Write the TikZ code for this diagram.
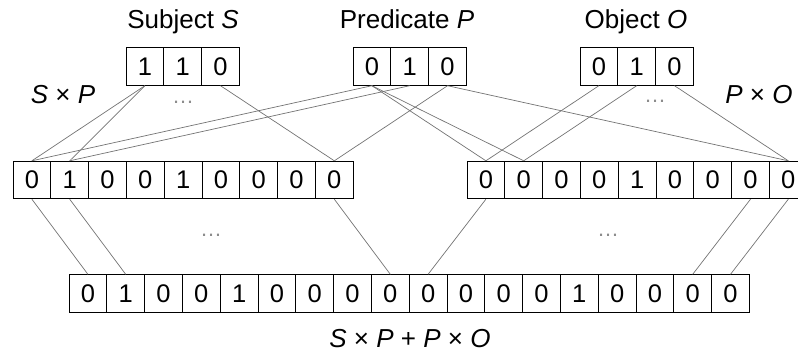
\documentclass[tikz,border=0pt]{standalone}
\usepackage{fontspec}
\setmainfont{Liberation Sans}
\setsansfont{Liberation Sans}
\begin{document}
\begin{tikzpicture}[x=1pt,y=-1pt,
  cell/.style={draw, line width=0.9pt, minimum width=37.8pt, minimum height=37.5pt, inner sep=0pt, font=\fontsize{25.5}{25.5}\selectfont},
  lbl/.style={inner sep=0pt, anchor=base, font=\fontsize{26}{26}\selectfont},
  dotsl/.style={inner sep=0pt, anchor=base, text=black!45, font=\fontsize{22}{22}\selectfont},
  conn/.style={draw=black!55, line width=0.7pt}]
\clip (0,0) rectangle (798,356);
% top vectors
\foreach \v [count=\i] in {1,1,0}
  \node[cell] (s\i) at ({126+18.9+37.8*(\i-1)}, 66.5) {\v};
\foreach \v [count=\i] in {0,1,0}
  \node[cell] (p\i) at ({353+18.9+37.8*(\i-1)}, 66.5) {\v};
\foreach \v [count=\i] in {0,1,0}
  \node[cell] (o\i) at ({580+18.9+37.8*(\i-1)}, 66.5) {\v};
% middle vectors
\foreach \v [count=\i] in {0,1,0,0,1,0,0,0,0}
  \node[cell] (l\i) at ({13+18.9+37.8*(\i-1)}, 180) {\v};
\foreach \v [count=\i] in {0,0,0,0,1,0,0,0,0}
  \node[cell] (r\i) at ({467+18.9+37.8*(\i-1)}, 180) {\v};
% bottom vector
\foreach \v [count=\i] in {0,1,0,0,1,0,0,0,0,0,0,0,0,1,0,0,0,0}
  \node[cell] (b\i) at ({69+18.9+37.8*(\i-1)}, 293.5) {\v};
% labels
\node[lbl] (tS) at (183,28) {Subject \textit{S}};
\node[lbl] (tP) at (407,28) {Predicate \textit{P}};
\node[lbl] (tO) at (636,28) {Object \textit{O}};
\node[lbl] (tSP) at (63,103) {\textit{S} × \textit{P}};
\node[lbl] (tPO) at (759,103) {\textit{P} × \textit{O}};
\node[lbl] (tSum) at (410,347) {\textit{S} × \textit{P} + \textit{P} × \textit{O}};
% dots
\node[dotsl] (d1) at (183,103.5) {\dots};
\node[dotsl] (d2) at (655,102) {\dots};
\node[dotsl] (d3) at (211,236.5) {\dots};
\node[dotsl] (d4) at (608,236) {\dots};
% connectors
\draw[conn] (s1.south) -- (l1.north);
\draw[conn] (s1.south) -- (l2.north);
\draw[conn] (s3.south) -- (l9.north);
\draw[conn] (p1.south) -- (l1.north);
\draw[conn] (p2.south) -- (l2.north);
\draw[conn] (p3.south) -- (l9.north);
\draw[conn] (p1.south) -- (r1.north);
\draw[conn] (p1.south) -- (r2.north);
\draw[conn] (p3.south) -- (r9.north);
\draw[conn] (o1.south) -- (r1.north);
\draw[conn] (o2.south) -- (r2.north);
\draw[conn] (o3.south) -- (r9.north);
\draw[conn] (l1.south) -- (b1.north);
\draw[conn] (l2.south) -- (b2.north);
\draw[conn] (l9.south) -- (b9.north);
\draw[conn] (r1.south) -- (b10.north);
\draw[conn] (r8.south) -- (b17.north);
\draw[conn] (r9.south) -- (b18.north);
\end{tikzpicture}
\end{document}
